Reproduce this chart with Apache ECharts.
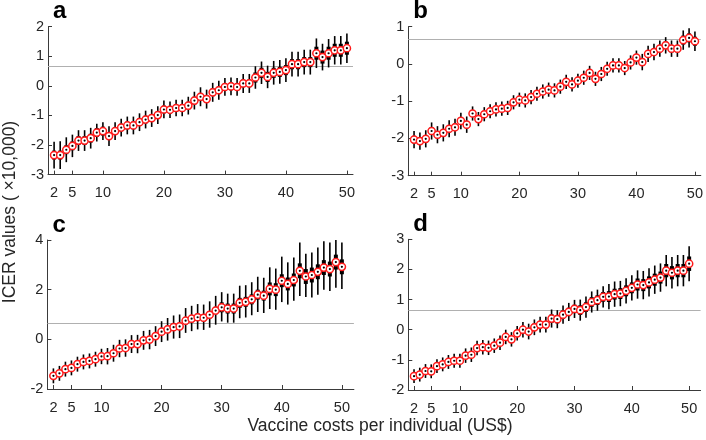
<!DOCTYPE html>
<html>
<head>
<meta charset="utf-8">
<script src="https://cdn.jsdelivr.net/npm/echarts@6/dist/echarts.min.js"></script>
<style>html,body{margin:0;padding:0;background:#fff}#c{width:706px;height:440px}</style>
</head>
<body>
<div id="c"></div>
<script>
// Vaccine cost per individual (US$)
const costs = [2,3,4,5,6,7,8,9,10,11,12,13,14,15,16,17,18,19,20,21,22,23,24,25,26,27,28,29,30,31,32,33,34,35,36,37,38,39,40,41,42,43,44,45,46,47,48,49,50];
const xTickVals = [2,5,10,20,30,40,50];
const threshold = 0.65;

// Panel a
const aMed = [-2.34,-2.34,-2.16,-2.03,-1.85,-1.85,-1.77,-1.58,-1.53,-1.70,-1.53,-1.41,-1.34,-1.34,-1.23,-1.14,-1.09,-0.99,-0.80,-0.81,-0.75,-0.75,-0.67,-0.50,-0.37,-0.45,-0.22,-0.15,-0.04,-0.02,-0.04,0.08,0.08,0.28,0.44,0.30,0.44,0.47,0.53,0.73,0.73,0.80,0.80,1.10,0.97,1.10,1.20,1.20,1.27];
const aHi = [-1.89,-1.87,-1.74,-1.65,-1.50,-1.50,-1.42,-1.28,-1.23,-1.37,-1.23,-1.11,-1.04,-1.04,-0.93,-0.84,-0.79,-0.69,-0.50,-0.53,-0.47,-0.47,-0.37,-0.20,-0.05,-0.13,0.10,0.17,0.26,0.28,0.26,0.40,0.40,0.66,0.82,0.68,0.84,0.87,0.93,1.15,1.15,1.22,1.22,1.60,1.42,1.58,1.68,1.68,1.77];
const aLo = [-2.79,-2.81,-2.58,-2.41,-2.20,-2.20,-2.12,-1.88,-1.83,-2.03,-1.83,-1.71,-1.64,-1.64,-1.53,-1.44,-1.39,-1.29,-1.10,-1.09,-1.03,-1.03,-0.97,-0.80,-0.69,-0.77,-0.54,-0.47,-0.34,-0.32,-0.34,-0.24,-0.24,-0.10,0.06,-0.08,0.04,0.07,0.13,0.31,0.31,0.38,0.38,0.60,0.52,0.62,0.72,0.72,0.77];
const aBox = [0.15,0.15,0.15,0.15,0.15,0.15,0.15,0.15,0.15,0.13,0.13,0.13,0.13,0.13,0.13,0.13,0.13,0.13,0.13,0.13,0.13,0.13,0.13,0.13,0.13,0.13,0.13,0.13,0.13,0.13,0.13,0.13,0.13,0.17,0.17,0.17,0.17,0.17,0.17,0.17,0.17,0.17,0.17,0.22,0.22,0.22,0.22,0.22,0.22];

// Panel b
const bMed = [-2.03,-2.07,-2.01,-1.80,-1.90,-1.85,-1.74,-1.70,-1.53,-1.63,-1.33,-1.48,-1.35,-1.27,-1.22,-1.20,-1.18,-1.03,-0.96,-0.98,-0.89,-0.80,-0.74,-0.69,-0.71,-0.61,-0.48,-0.55,-0.45,-0.37,-0.24,-0.40,-0.27,-0.13,-0.04,-0.04,-0.11,0.04,0.17,0.05,0.27,0.32,0.41,0.50,0.41,0.41,0.64,0.70,0.61];
const bHi = [-1.80,-1.84,-1.78,-1.57,-1.67,-1.62,-1.51,-1.47,-1.31,-1.41,-1.14,-1.29,-1.16,-1.08,-1.03,-1.01,-0.99,-0.84,-0.77,-0.79,-0.70,-0.61,-0.55,-0.50,-0.52,-0.42,-0.29,-0.36,-0.26,-0.18,-0.05,-0.21,-0.08,0.06,0.15,0.15,0.08,0.23,0.36,0.27,0.49,0.54,0.63,0.72,0.63,0.63,0.90,0.96,0.87];
const bLo = [-2.26,-2.30,-2.24,-2.03,-2.13,-2.08,-1.97,-1.93,-1.75,-1.85,-1.52,-1.67,-1.54,-1.46,-1.41,-1.39,-1.37,-1.22,-1.15,-1.17,-1.08,-0.99,-0.93,-0.88,-0.90,-0.80,-0.67,-0.74,-0.64,-0.56,-0.43,-0.59,-0.46,-0.32,-0.23,-0.23,-0.30,-0.15,-0.02,-0.17,0.05,0.10,0.19,0.28,0.19,0.19,0.38,0.44,0.35];
const bBox = [0.10,0.10,0.10,0.10,0.10,0.10,0.10,0.10,0.10,0.10,0.09,0.09,0.09,0.09,0.09,0.09,0.09,0.09,0.09,0.09,0.09,0.09,0.09,0.09,0.09,0.09,0.09,0.09,0.09,0.09,0.09,0.09,0.09,0.09,0.09,0.09,0.09,0.09,0.09,0.10,0.10,0.10,0.10,0.10,0.10,0.10,0.12,0.12,0.12];

// Panel c
const cMed = [-1.47,-1.37,-1.20,-1.15,-1.00,-0.91,-0.87,-0.80,-0.69,-0.68,-0.56,-0.37,-0.35,-0.19,-0.19,-0.04,-0.01,0.13,0.31,0.40,0.49,0.52,0.75,0.83,0.89,0.87,0.99,1.16,1.29,1.24,1.24,1.47,1.51,1.61,1.80,1.76,2.03,2.00,2.36,2.23,2.39,2.76,2.53,2.59,2.72,2.89,2.83,3.11,2.92];
const cHi = [-1.17,-1.07,-0.90,-0.85,-0.70,-0.61,-0.57,-0.50,-0.38,-0.35,-0.22,-0.02,0.00,0.17,0.18,0.34,0.38,0.53,0.73,0.86,0.96,1.00,1.26,1.35,1.42,1.40,1.53,1.75,1.90,1.84,1.84,2.16,2.18,2.30,2.52,2.48,2.90,2.85,3.33,3.10,3.30,3.90,3.45,3.50,3.70,3.95,3.90,4.00,3.90];
const cLo = [-1.77,-1.67,-1.50,-1.45,-1.30,-1.21,-1.17,-1.10,-1.00,-1.01,-0.90,-0.72,-0.70,-0.55,-0.56,-0.42,-0.40,-0.27,-0.11,-0.05,0.03,0.05,0.26,0.33,0.40,0.38,0.47,0.59,0.72,0.67,0.67,0.85,0.88,0.97,1.10,1.06,1.22,1.19,1.50,1.40,1.55,1.74,1.70,1.68,1.80,2.00,1.95,2.08,2.03];
const cBox = [0.10,0.10,0.10,0.10,0.10,0.10,0.10,0.10,0.10,0.10,0.10,0.10,0.10,0.10,0.10,0.10,0.10,0.10,0.10,0.15,0.15,0.15,0.15,0.15,0.15,0.15,0.15,0.15,0.20,0.20,0.20,0.20,0.20,0.20,0.20,0.20,0.26,0.26,0.26,0.26,0.26,0.30,0.30,0.30,0.30,0.30,0.30,0.30,0.30];

// Panel d
const dMed = [-1.54,-1.49,-1.37,-1.38,-1.21,-1.15,-1.07,-1.03,-1.03,-0.86,-0.83,-0.61,-0.58,-0.60,-0.53,-0.43,-0.24,-0.32,-0.12,0.00,-0.06,0.08,0.17,0.17,0.37,0.35,0.50,0.59,0.69,0.65,0.75,0.92,0.98,1.09,1.10,1.18,1.20,1.29,1.39,1.50,1.48,1.57,1.66,1.73,1.96,1.89,1.96,1.96,2.19];
const dHi = [-1.31,-1.26,-1.14,-1.15,-0.98,-0.92,-0.84,-0.80,-0.80,-0.62,-0.59,-0.37,-0.34,-0.36,-0.29,-0.19,0.00,-0.08,0.12,0.26,0.20,0.34,0.43,0.43,0.67,0.65,0.80,0.89,0.99,1.00,1.10,1.27,1.33,1.44,1.52,1.60,1.62,1.71,1.81,1.97,1.95,2.04,2.13,2.20,2.48,2.41,2.48,2.48,2.77];
const dLo = [-1.77,-1.72,-1.60,-1.61,-1.44,-1.38,-1.30,-1.26,-1.26,-1.10,-1.07,-0.85,-0.82,-0.84,-0.77,-0.67,-0.48,-0.56,-0.36,-0.26,-0.32,-0.18,-0.09,-0.09,0.07,0.05,0.20,0.29,0.39,0.30,0.40,0.57,0.63,0.74,0.68,0.76,0.78,0.87,0.97,1.03,1.01,1.10,1.19,1.26,1.44,1.37,1.44,1.44,1.61];
const dBox = [0.10,0.10,0.10,0.10,0.10,0.10,0.10,0.10,0.10,0.10,0.10,0.10,0.10,0.10,0.10,0.10,0.10,0.10,0.10,0.12,0.12,0.12,0.12,0.12,0.14,0.14,0.14,0.14,0.14,0.16,0.16,0.16,0.16,0.16,0.18,0.18,0.18,0.18,0.18,0.20,0.20,0.20,0.20,0.20,0.22,0.22,0.22,0.22,0.24];

const panels = [
  {letter:'a', med:aMed, lo:aLo, hi:aHi, box:aBox, ymin:-3, ymax:2, yint:1, xmax:51, grid:{left:48, top:26.6, width:305, height:148}},
  {letter:'b', med:bMed, lo:bLo, hi:bHi, box:bBox, ymin:-3, ymax:1, yint:1, xmax:51, grid:{left:408.2, top:26.7, width:296, height:149}},
  {letter:'c', med:cMed, lo:cLo, hi:cHi, box:cBox, ymin:-2, ymax:4, yint:2, xmax:52, grid:{left:47.4, top:240, width:306.5, height:149}},
  {letter:'d', med:dMed, lo:dLo, hi:dHi, box:dBox, ymin:-2, ymax:3, yint:1, xmax:52, grid:{left:408.3, top:239.3, width:292.3, height:150.7}}
];

const FONT = 'Liberation Sans, Arial, Helvetica, sans-serif';
const axisCol = '#3a3a3a';
const txtCol = '#262626';

function renderItem(params, api) {
  const x = api.value(0);
  const pLo = api.coord([x, api.value(1)]);
  const pQ1 = api.coord([x, api.value(2)]);
  const pM  = api.coord([x, api.value(3)]);
  const pQ3 = api.coord([x, api.value(4)]);
  const pHi = api.coord([x, api.value(5)]);
  return {
    type: 'group',
    children: [
      {type:'line', shape:{x1:pLo[0], y1:pLo[1], x2:pHi[0], y2:pHi[1]}, style:{stroke:'#000', lineWidth:1.6}},
      {type:'line', shape:{x1:pQ1[0], y1:pQ1[1], x2:pQ3[0], y2:pQ3[1]}, style:{stroke:'#000', lineWidth:4}},
      {type:'circle', shape:{cx:pM[0], cy:pM[1], r:3.6}, style:{fill:'#fff', stroke:'#ff1a1a', lineWidth:1.5}},
      {type:'circle', shape:{cx:pM[0], cy:pM[1], r:1.1}, style:{fill:'#000'}}
    ]
  };
}

const grids = [], xAxes = [], yAxes = [], series = [], graphics = [];
panels.forEach((p, i) => {
  grids.push(Object.assign({containLabel:false}, p.grid));
  xAxes.push({
    type:'value', gridIndex:i, min:1, max:p.xmax,
    axisLine:{show:true, onZero:false, lineStyle:{color:axisCol, width:1}},
    axisTick:{show:true, inside:true, length:4, customValues:xTickVals, lineStyle:{color:axisCol}},
    axisLabel:{show:true, customValues:xTickVals, margin:11, fontSize:14.5, color:txtCol, fontFamily:FONT},
    splitLine:{show:false}
  });
  yAxes.push({
    type:'value', gridIndex:i, min:p.ymin, max:p.ymax, interval:p.yint,
    axisLine:{show:true, onZero:false, lineStyle:{color:axisCol, width:1}},
    axisTick:{show:true, inside:true, length:4, lineStyle:{color:axisCol}},
    axisLabel:{show:true, margin:4, fontSize:14.5, color:txtCol, fontFamily:FONT},
    splitLine:{show:false}
  });
  const data = costs.map((c, k) => [c, p.lo[k], p.med[k] - p.box[k], p.med[k], p.med[k] + p.box[k], p.hi[k]]);
  series.push({
    type:'custom', xAxisIndex:i, yAxisIndex:i, renderItem:renderItem, data:data,
    encode:{x:0, y:[1,2,3,4,5]}, z:3, clip:false,
    markLine:{silent:true, symbol:'none', z:1, label:{show:false}, lineStyle:{color:'#b0b0b0', type:'solid', width:1.2},
      data:[{yAxis:threshold}]}
  });
  graphics.push({type:'text', left:p.grid.left + 5, top:p.grid.top - 27,
    style:{text:p.letter, font:'bold 24px ' + FONT, fill:'#000'}});
});

graphics.push({type:'text', x:380, y:426, style:{text:'Vaccine costs per individual (US$)', font:'17.5px ' + FONT, fill:txtCol, align:'center', verticalAlign:'middle'}});
graphics.push({type:'text', x:10, y:212, rotation:Math.PI/2, style:{text:'ICER values ( ×10,000)', font:'17.5px ' + FONT, fill:txtCol, align:'center', verticalAlign:'middle'}});

const chart = echarts.init(document.getElementById('c'), null, {renderer:'canvas'});
chart.setOption({
  animation:false,
  backgroundColor:'#fff',
  grid:grids, xAxis:xAxes, yAxis:yAxes, series:series, graphic:graphics
});
</script>
</body>
</html>
